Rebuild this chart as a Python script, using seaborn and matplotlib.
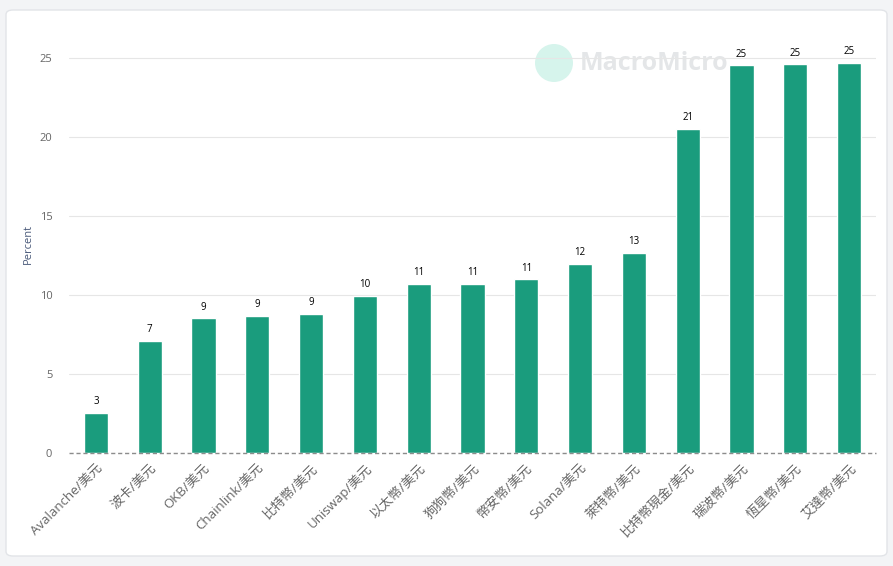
import pandas as pd
import matplotlib.pyplot as plt
import seaborn as sns
from matplotlib.patches import FancyBboxPatch, Circle

# Data
pairs = ['Avalanche/美元', '波卡/美元', 'OKB/美元', 'Chainlink/美元', '比特幣/美元',
         'Uniswap/美元', '以太幣/美元', '狗狗幣/美元', '幣安幣/美元', 'Solana/美元',
         '萊特幣/美元', '比特幣現金/美元', '瑞波幣/美元', '恆星幣/美元', '艾達幣/美元']
percent = [2.53, 7.09, 8.52, 8.67, 8.80, 9.94, 10.70, 10.72, 11.00, 11.96,
           12.66, 20.52, 24.52, 24.60, 24.68]
yticks = [0, 5, 10, 15, 20, 25]

df = pd.DataFrame({'pair': pairs, 'percent': percent})

sns.set_style('white')
plt.rcParams['font.family'] = ['Open Sans', 'Noto Sans CJK TC', 'DejaVu Sans']

fig = plt.figure(figsize=(8.93, 5.66), dpi=100)
fig.patch.set_facecolor('#f3f4f6')

# white card with soft border
card = FancyBboxPatch((6 / 893, 10 / 566), 881 / 893, 546 / 566,
                      boxstyle='round,pad=0,rounding_size=0.008',
                      transform=fig.transFigure, facecolor='white',
                      edgecolor='#e2e4e8', linewidth=1.0, zorder=-3)
fig.patches.append(card)

# watermark
fig.patches.append(Circle((5.54, 5.03), 0.19, transform=fig.dpi_scale_trans,
                          facecolor='#d6f4ec', edgecolor='none', zorder=-2))
fig.text(580 / 893, 1 - 64 / 566, 'MacroMicro', fontsize=18, fontweight='bold',
         color='#e4e6e8', va='center', ha='left', zorder=-2)

ax = fig.add_axes([69 / 893, 1 - 453 / 566, 807 / 893, 419 / 566])
ax.set_facecolor('none')

sns.barplot(data=df, x='pair', y='percent', color='#1a9c7d', saturation=1,
            width=0.45, ax=ax, zorder=3)

for i, v in enumerate(percent):
    ax.text(i, v + 0.35, f'{v:.0f}', ha='center', va='bottom', fontsize=7,
            color='black', zorder=4)

ax.set_ylim(0, 26.5)
ax.set_xlim(-0.5, len(pairs) - 0.5)
ax.set_yticks(yticks)
ax.grid(axis='y', color='#e6e6e6', linewidth=0.8, zorder=0)
ax.axhline(0, color='#8c8c8c', linestyle=(0, (3, 2)), linewidth=1.0, zorder=5,
           clip_on=False)
for s in ax.spines.values():
    s.set_visible(False)

ax.tick_params(axis='y', length=0, labelsize=8, labelcolor='#666666', pad=12)
ax.tick_params(axis='x', length=0, labelsize=9.5, labelcolor='#666666', pad=6)
plt.setp(ax.get_xticklabels(), rotation=45, ha='right', rotation_mode='anchor')

ax.set_xlabel('')
ax.set_ylabel('Percent', fontsize=8, color='#4a5a7a', labelpad=4)

fig.savefig('out.png', dpi=100, facecolor=fig.get_facecolor())
